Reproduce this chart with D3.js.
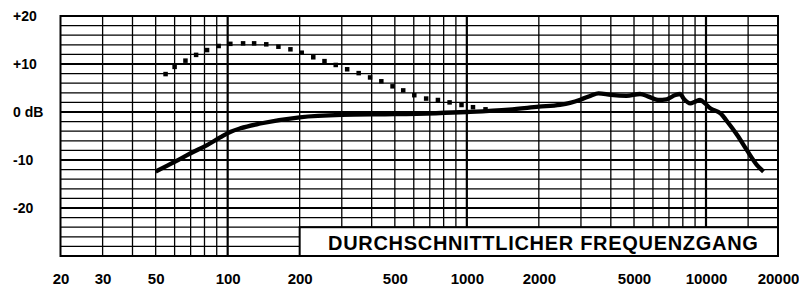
<!DOCTYPE html>
<html>
<head>
<meta charset="utf-8">
<title>Durchschnittlicher Frequenzgang</title>
<script src="https://d3js.org/d3.v7.min.js"></script>
<style>
  body { margin: 0; background: #fff; }
  text { font-family: "Liberation Sans", Arial, sans-serif; font-weight: bold; fill: #000; }
</style>
</head>
<body>
<div id="chart"></div>
<script>
// frequency response (Hz, dB)
var solidFreq = [50, 60, 70, 82, 93, 103, 113, 137, 200, 300, 500, 1000, 1500, 2000, 2450, 2700, 3000, 3300, 3550,
                 4000, 4650, 5300, 5750, 6300, 6850, 7450, 7800, 8050, 8600, 9000, 9450, 9900, 10400, 11500, 12400,
                 13500, 14800, 16300, 17400];
var solidDb = [-12.4, -10.4, -8.6, -6.9, -5.3, -4.1, -3.4, -2.4, -1.1, -0.6, -0.45, 0.0, 0.5, 1.1, 1.5, 1.9, 2.6, 3.4, 3.9,
               3.55, 3.35, 3.75, 3.2, 2.5, 2.65, 3.55, 3.75, 2.85, 1.8, 2.15, 2.5, 1.8, 0.8, -0.3, -2.3,
               -4.8, -7.9, -11.0, -12.4];

// dotted curve, one entry per dot
var dotFreq = [55, 60, 66.6, 73.8, 82, 91.7, 102.6, 116, 129, 145, 163, 183, 204, 228, 254, 283, 316, 353, 394,
               439, 489, 542, 603, 676, 757, 847, 950, 1061, 1197];
var dotDb = [7.9, 9.4, 10.7, 11.9, 12.9, 13.75, 14.2, 14.3, 14.3, 14.1, 13.6, 13.06, 12.35, 11.4, 10.6, 9.8, 8.9, 8.1, 7.2,
             6.4, 5.35, 4.5, 3.5, 2.8, 2.5, 2.0, 1.46, 1.0, 0.56];

// grid + labels
var xMinor = [30, 40, 50, 60, 70, 80, 90, 200, 300, 400, 500, 600, 700, 800, 900,
              2000, 3000, 4000, 5000, 6000, 7000, 8000, 9000, 15000];
var xMajor = [100, 1000, 10000];
var xTickLabels = [20, 30, 50, 100, 200, 500, 1000, 2000, 5000, 10000, 20000];
var yTicks = [20, 10, 0, -10, -20];
var yTickLabels = ["+20", "+10", "0 dB", "-10", "-20"];
var title = "DURCHSCHNITTLICHER FREQUENZGANG";

var width = 799, height = 299;

var svg = d3.select("#chart").append("svg")
    .attr("width", width)
    .attr("height", height);

var x = d3.scaleLog().domain([20, 20000]).range([60.5, 778]);
var y = d3.scaleLinear().domain([-30, 20]).range([256, 16]);

var yMinor = d3.range(-28, 20, 2).filter(function(d) { return d % 10 !== 0; });
var yMajor = [-20, -10, 0, 10];

var grid = svg.append("g");

// horizontal lines
grid.selectAll(".hmin").data(yMinor).enter().append("line")
    .attr("x1", x(20)).attr("x2", x(20000))
    .attr("y1", d => y(d)).attr("y2", d => y(d))
    .attr("stroke", "#000").attr("stroke-width", 1.3);
grid.selectAll(".hmaj").data(yMajor).enter().append("line")
    .attr("x1", x(20)).attr("x2", x(20000))
    .attr("y1", d => y(d)).attr("y2", d => y(d))
    .attr("stroke", "#000").attr("stroke-width", 2);

// vertical lines
grid.selectAll(".vmin").data(xMinor).enter().append("line")
    .attr("x1", d => x(d)).attr("x2", d => x(d))
    .attr("y1", y(20)).attr("y2", y(-30))
    .attr("stroke", "#000").attr("stroke-width", 1.3);
grid.selectAll(".vmaj").data(xMajor).enter().append("line")
    .attr("x1", d => x(d)).attr("x2", d => x(d))
    .attr("y1", y(20)).attr("y2", y(-30))
    .attr("stroke", "#000").attr("stroke-width", 2.2);

// title box (covers the grid)
svg.append("rect")
    .attr("x", x(200)).attr("y", y(-24))
    .attr("width", x(20000) - x(200))
    .attr("height", y(-30) - y(-24))
    .attr("fill", "#fff").attr("stroke", "#000").attr("stroke-width", 2);

svg.append("text")
    .attr("x", 328).attr("y", 249.5)
    .style("font-size", "20px")
    .style("letter-spacing", "0.7px")
    .text(title);

// frame
svg.append("rect")
    .attr("x", x(20)).attr("y", y(20))
    .attr("width", x(20000) - x(20))
    .attr("height", y(-30) - y(20))
    .attr("fill", "none").attr("stroke", "#000").attr("stroke-width", 2);

// solid curve
var solid = solidFreq.map((f, i) => [f, solidDb[i]]);
var line = d3.line()
    .x(d => x(d[0]))
    .y(d => y(d[1]))
    .curve(d3.curveMonotoneX);

svg.append("path")
    .datum(solid)
    .attr("d", line)
    .attr("fill", "none")
    .attr("stroke", "#000")
    .attr("stroke-width", 4.3)
    .attr("stroke-linejoin", "round");

// dotted curve
var dots = dotFreq.map((f, i) => [f, dotDb[i]]);
svg.append("g").selectAll("rect").data(dots).enter().append("rect")
    .attr("x", d => x(d[0]) - 2.25)
    .attr("y", d => y(d[1]) - 2.25)
    .attr("width", 4.5).attr("height", 4.5)
    .attr("fill", "#000");

// x axis labels
var xAxis = svg.append("g")
    .attr("transform", "translate(0," + 256 + ")")
    .call(d3.axisBottom(x).tickValues(xTickLabels).tickFormat(d3.format("d")).tickSize(0).tickPadding(0));
xAxis.select(".domain").remove();
xAxis.selectAll("text")
    .attr("y", 28).attr("dy", 0)
    .style("font-size", "15px")
    .style("font-family", "'Liberation Sans', Arial, sans-serif")
    .style("font-weight", "bold")
    .attr("fill", "#000");

// y axis labels
var yAxis = svg.append("g")
    .call(d3.axisLeft(y).tickValues(yTicks).tickFormat((d, i) => yTickLabels[i]).tickSize(0));
yAxis.select(".domain").remove();
yAxis.selectAll("text")
    .attr("x", 13).attr("dy", "0.35em")
    .attr("text-anchor", "start")
    .style("font-size", "14px")
    .style("font-family", "'Liberation Sans', Arial, sans-serif")
    .style("font-weight", "bold")
    .attr("fill", "#000");
yAxis.attr("text-anchor", "start");
</script>
</body>
</html>
